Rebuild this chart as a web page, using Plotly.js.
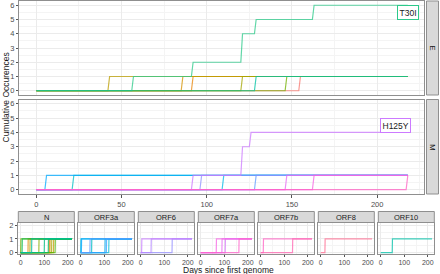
<!DOCTYPE html>
<html><head><meta charset="utf-8">
<script src="https://cdn.plot.ly/plotly-3.0.1.min.js"></script>
<style>html,body{margin:0;padding:0;background:#fff}#chart{width:440px;height:274px}</style>
</head><body><div id="chart"></div>
<script>
// ---------------- data ----------------
const lastDay = 218;
const bigGenes = ["E", "M"];
const smallGenes = ["N", "ORF3a", "ORF6", "ORF7a", "ORF7b", "ORF8", "ORF10"];

// each series: days on which the cumulative count changes, and the new count
const E_days   = [[154], [91], [85], [42], [120], [146], [56, 91, 120, 128, 162], [128]];
const E_levels = [[1],   [1],  [1],  [1],  [1],   [1],   [1, 2, 4, 5, 6],         [1]];
const M_days   = [[21], [109], [5], [128], [96], [91, 120, 125], [146], [162], [217]];
const M_levels = [[1],  [1],   [1], [1],   [1],  [1, 3, 4],      [1],   [1],   [1]];
const N_days   = [[121], [31], [124], [139], [39], [131], [77], [0], [146], [6], [117], [100], [46]];
const N_levels = [[1], [1], [1], [1], [1], [1], [1], [1], [1], [1], [1], [1], [1]];
const ORF3a_days   = [[46], [119], [0], [103], [3], [109], [39]];
const ORF3a_levels = [[1], [1], [1], [1], [1], [1], [1]];
const ORF6_days   = [[133], [44], [4]];
const ORF6_levels = [[1], [1], [1]];
const ORF7a_days   = [[104], [90], [66], [162]];
const ORF7a_levels = [[1], [1], [1], [1]];
const ORF7b_days   = [[11], [135]];
const ORF7b_levels = [[1], [1]];
const ORF8_days   = [[18]];
const ORF8_levels = [[1]];
const ORF10_days   = [[49]];
const ORF10_levels = [[1]];

const mutationLabels = ["T30I", "H125Y"];
const labelGene = ["E", "M"];
const labelDays = [218, 211];
const labelLevels = [5.5, 4.5];

const bigTicksX = [0, 50, 100, 150, 200];
const bigTicksY = [0, 1, 2, 3, 4, 5, 6];
const smallTicksX = [0, 100, 200];
const smallTicksY = [0, 1, 2];

// ---------------- styles ----------------
const colors = {
  E: ["#F8766D", "#E8850A", "#D49200", "#BB9D00", "#A3A500", "#72B000", "#2CC98A", "#00C1A3"],
  M: ["#00BFC4", "#00B8E5", "#00A9FF", "#619CFF", "#8F91FF", "#CC7AFF", "#E76BF3", "#F564E3", "#FF61C3"],
  N: ["#F07F4F", "#E38900", "#D69100", "#C49A00", "#B0A100", "#A3A500", "#8AAB00", "#6FB000", "#4FB400", "#00B94A", "#00BD63", "#00BF80", "#00C0A0"],
  ORF3a: ["#00BFC4", "#00BCD6", "#00B8E5", "#00B0F6", "#00A8FF", "#35A2FF", "#619CFF"],
  ORF6: ["#9590FF", "#B385FF", "#C77CFF"],
  ORF7a: ["#D774FA", "#E76BF3", "#F564E3", "#FF61C9"],
  ORF7b: ["#FF61C3", "#FF64B0"],
  ORF8: ["#FF6C91"],
  ORF10: ["#00C1AA"]
};
const labelColors = ["#2CC98A", "#CC7AFF"];
const dataByGene = {
  E: [E_days, E_levels], M: [M_days, M_levels], N: [N_days, N_levels],
  ORF3a: [ORF3a_days, ORF3a_levels], ORF6: [ORF6_days, ORF6_levels],
  ORF7a: [ORF7a_days, ORF7a_levels], ORF7b: [ORF7b_days, ORF7b_levels],
  ORF8: [ORF8_days, ORF8_levels], ORF10: [ORF10_days, ORF10_levels]
};

const W = 440, H = 274;
const px = v => v / W, py = v => 1 - v / H;
const font = "Liberation Sans, Arial, sans-serif";
const borderCol = "#8f8f8f";
const gridCol = "#EBEBEB", minorCol = "#F4F4F4";
const xRange = [-10, 227.5];

// geometry (pixels)
const bigLeft = 19.3, bigRight = 424;
const bigPanels = { E: [1, 95], M: [99.5, 194] };
const stripX = [426.5, 438.5];
const smallLeft0 = 18.3, smallStep = 60.0, smallW = 56;
const smallTop = 222.5, smallBottom = 254, stripTop = 211.5;

// ---------------- build ----------------
function pathFor(days, levels) {
  const xs = [0], ys = [0];
  let prev = 0;
  days.forEach((d, i) => {
    xs.push(d, d + 1); ys.push(prev, levels[i]);
    prev = levels[i];
  });
  xs.push(lastDay); ys.push(prev);
  return [xs, ys];
}

const traces = [];
const layout = {
  width: W, height: H, margin: { l: 0, r: 0, t: 0, b: 0 },
  paper_bgcolor: "#fff", plot_bgcolor: "#fff", showlegend: false,
  font: { family: font, size: 7.5, color: "#4D4D4D" },
  shapes: [], annotations: []
};
function note(o) {
  return Object.assign({ showarrow: false, xanchor: "center", yanchor: "middle" }, o);
}

const allGenes = bigGenes.concat(smallGenes);
allGenes.forEach((g, gi) => {
  const n = gi + 1;
  const xa = n === 1 ? "x" : "x" + n, ya = n === 1 ? "y" : "y" + n;
  const xk = n === 1 ? "xaxis" : "xaxis" + n, yk = n === 1 ? "yaxis" : "yaxis" + n;
  const [daysArr, levArr] = dataByGene[g];
  daysArr.forEach((days, si) => {
    const [xs, ys] = pathFor(days, levArr[si]);
    traces.push({
      type: "scatter", mode: "lines", x: xs, y: ys, xaxis: xa, yaxis: ya,
      line: { color: colors[g][si], width: 1.2 }, opacity: 0.75, hoverinfo: "skip"
    });
  });
  const big = gi < 2;
  let xd, yd;
  if (big) {
    const [t, b] = bigPanels[g];
    xd = [px(bigLeft), px(bigRight)];
    yd = [py(b), py(t)];
  } else {
    const k = gi - 2;
    const l = smallLeft0 + k * smallStep;
    xd = [px(l), px(l + smallW)];
    yd = [py(smallBottom), py(smallTop)];
  }
  const axBase = {
    showline: true, mirror: true, linecolor: borderCol, linewidth: 1,
    gridcolor: gridCol, gridwidth: 1, zeroline: false,
    ticks: "outside", ticklen: 2.5, tickwidth: 1, tickcolor: "#555",
    tickfont: { family: font, size: 7.5, color: "#4D4D4D" }
  };
  layout[xk] = Object.assign({}, axBase, {
    domain: xd, anchor: ya, range: xRange,
    tickmode: "array", tickvals: big ? bigTicksX : smallTicksX,
    minor: { tickmode: "array", tickvals: big ? [25, 75, 125, 175, 225] : [50, 150], showgrid: true, gridcolor: minorCol, ticks: "" },
    showticklabels: g === "M" || !big,
    ticks: (g === "E") ? "" : "outside",
    ticklen: big ? 2.5 : 1.5,
    tickfont: { family: font, size: big ? 7.5 : 7, color: "#4D4D4D" }
  });
  layout[yk] = Object.assign({}, axBase, {
    domain: yd, anchor: xa,
    range: big ? [-0.3, 6.3] : [-0.1, 2.2],
    tickmode: "array", tickvals: big ? bigTicksY : smallTicksY,
    minor: { tickmode: "array", tickvals: big ? [0.5, 1.5, 2.5, 3.5, 4.5, 5.5] : [0.5, 1.5], showgrid: true, gridcolor: minorCol, ticks: "" },
    showticklabels: big || g === "N",
    ticks: (big || g === "N") ? "outside" : ""
  });
  // strips
  if (big) {
    const [t, b] = bigPanels[g];
    layout.shapes.push({ type: "rect", xref: "paper", yref: "paper",
      x0: px(stripX[0]), x1: px(stripX[1]), y0: py(b), y1: py(t),
      fillcolor: "#D9D9D9", line: { color: borderCol, width: 1 } });
    layout.annotations.push(note({ xref: "paper", yref: "paper",
      x: px((stripX[0] + stripX[1]) / 2), y: py((t + b) / 2), text: g, textangle: 90,
      font: { family: font, size: 7.5, color: "#1A1A1A" } }));
  } else {
    const k = gi - 2;
    const l = smallLeft0 + k * smallStep;
    layout.shapes.push({ type: "rect", xref: "paper", yref: "paper",
      x0: px(l), x1: px(l + smallW), y0: py(smallTop), y1: py(stripTop),
      fillcolor: "#D9D9D9", line: { color: borderCol, width: 1 } });
    layout.annotations.push(note({ xref: "paper", yref: "paper",
      x: px(l + smallW / 2), y: py((smallTop + stripTop) / 2), text: g,
      font: { family: font, size: 7.5, color: "#1A1A1A" } }));
  }
});

// mutation labels
mutationLabels.forEach((lab, i) => {
  const n = allGenes.indexOf(labelGene[i]) + 1;
  layout.annotations.push(note({
    xref: n === 1 ? "x" : "x" + n, yref: n === 1 ? "y" : "y" + n,
    x: labelDays[i], y: labelLevels[i], text: lab,
    bgcolor: "#fff", bordercolor: labelColors[i], borderwidth: 1, borderpad: 1.5,
    font: { family: font, size: 8.5, color: "#1A1A1A" }
  }));
});

// axis titles
layout.annotations.push(note({ xref: "paper", yref: "paper", x: px(228.3), y: py(270.3),
  text: "Days since first genome",
  font: { family: font, size: 8.5, color: "#1A1A1A" } }));
layout.annotations.push(note({ xref: "paper", yref: "paper", x: px(5), y: py(97.5),
  text: "Cumulative Occurences", textangle: -90,
  font: { family: font, size: 8.5, color: "#1A1A1A" } }));

Plotly.newPlot("chart", traces, layout, { staticPlot: true, displayModeBar: false });
</script></body></html>
